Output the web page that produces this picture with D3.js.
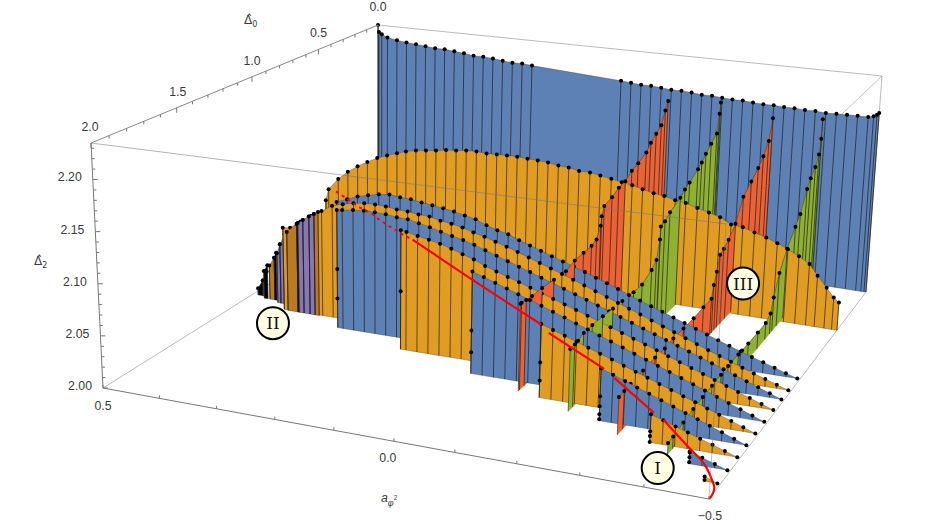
<!DOCTYPE html>
<html><head><meta charset="utf-8">
<script src="https://cdn.jsdelivr.net/npm/d3@7"></script>
<style>html,body{margin:0;padding:0;background:#fff}svg{display:block}</style></head>
<body><svg id="c" width="941" height="524"></svg>
<script>
// ---------- data: rise = Δ2 − 2 ----------
const wallA=[.5,.498,.492,.48,.46,.44,.42,.4,.38,.36,.34,.32,.3,.28,.26,.24,.22,.2,.18,0,-.02,-.04,-.06,-.08,-.1,-.12,-.14,-.16,-.18,-.2,-.22,-.24,-.26,-.28,-.3,-.32,-.34,-.36,-.38,-.4,-.42,-.44,-.46,-.48,-.49,-.496,-.5];
const wallRise=[.235,.2264,.224,.2207,.2187,.2173,.2163,.215,.2139,.2139,.2127,.2114,.2098,.2099,.2088,.2076,.2065,.2066,.2055,.199,.198,.197,.1972,.196,.1951,.1953,.1944,.1933,.1935,.1925,.1916,.1918,.191,.1902,.1905,.1897,.1898,.1891,.1892,.1882,.1887,.189,.1893,.189,.1905,.1925,.1947];
const archD0=.456;
const archA=[.5,.494,.474,.454,.434,.414,.394,.374,.354,.336,.316,.296,.276,.256,.236,.216,.196,.176,.156,.136,.116,.096,.076,.056,.036,.016,-.004,-.025,-.045,-.066,-.086,-.106,-.126,-.147,-.167,-.188,-.208,-.23,-.252,-.273,-.294,-.316,-.338,-.36,-.381,-.401,-.422,-.442,-.458,-.476,-.49,-.5];
const archRise=[.056,.0695,.083,.093,.101,.1075,.1135,.118,.122,.1255,.128,.1295,.131,.133,.134,.1355,.136,.135,.1355,.1358,.136,.135,.1347,.134,.132,.1313,.129,.129,.127,.125,.1227,.121,.1183,.1155,.114,.111,.1097,.106,.103,.0995,.0935,.0923,.0886,.085,.0805,.076,.0703,.0638,.053,.042,.033,.0287];
const sheetD0=[1.01,1.124,1.21,1.308,1.414,1.516,1.616,1.714,1.818,1.92];
const sheetKind=["blue","orange","blue","orange","blue","orange","blue","orange","blue","orange"];
const sheetStart=[8,4.3,10.5,17.5,25,32,38,43,47,49];
const sheetRise=[
[.111,.1155,.1199,.1227,.1252,.1264,.125,.1242,.1224,.121,.1192,.1173,.1148,.1122,.1075,.104,.1013,.0967,.0928,.0889,.085,.0812,.0775,.0735,.0695,.0655,.0612,.0569,.053,.049,.045,.041,.0371,.0332,.0292,.0253,.0215,.0177,.014,.0105,.007,.0035,0],
[.0871,.0881,.0963,.104,.1105,.1175,.1208,.1232,.1247,.125,.1243,.1227,.1221,.1204,.1198,.1171,.1155,.113,.1094,.1066,.1031,.0997,.0958,.0918,.0878,.0838,.0799,.0758,.0717,.0676,.0634,.0592,.0551,.051,.0468,.0427,.0386,.0346,.0305,.0264,.0224,.0185,.0146,.0109,.0073,.0036,0],
[.1223,.1231,.1245,.1254,.1254,.1248,.1232,.1226,.1201,.1175,.1145,.1116,.1091,.1057,.1017,.0978,.094,.0901,.0862,.0823,.0785,.0746,.0707,.0668,.0629,.059,.055,.051,.047,.0432,.0393,.0354,.0315,.0276,.0237,.0198,.0158,.0118,.0079,.004,0],
[.1202,.1193,.1168,.1144,.112,.1086,.1047,.1009,.0961,.0923,.0885,.0847,.0809,.0771,.0733,.0695,.0657,.0619,.058,.0542,.0503,.0465,.0426,.0387,.0348,.0309,.027,.0232,.0193,.0154,.0116,.0077,.0038,0],
[.1,.0961,.0921,.0882,.0842,.0803,.0763,.0723,.0683,.0643,.0602,.0562,.0522,.0482,.0441,.0401,.0361,.0321,.0281,.0241,.0201,.0161,.012,.008,.004,0],
[.07,.0661,.0622,.0583,.0544,.0505,.0467,.0428,.0389,.035,.0311,.0272,.0233,.0194,.0156,.0117,.0078,.0039,0],
[.0482,.0442,.0402,.0362,.0321,.0281,.0241,.0201,.0161,.012,.008,.004,0],
[.0254,.0218,.0181,.0145,.0109,.0073,.0036,0],
[.0108,.0072,.0036,0],
[.004,0]];
// the sheets stop a hair above the floor at their far end
const tipLift=.0043;
const sheetEdgeDots=[[],[],[.0609,.0302],[.0585],[.0421,.0208],[.0333,.0164],[.0225,.0133,.006,.0014],[.0101,.0057,.0003],[.0099,.0056,.0012],[.001]];
const planeKind=["red","green","red","green"];
const planeA=[-.095,-.198,-.3,-.395];
const planeD0=[
[0,.03,.072,.13,.19,.24,.33,.4,.47,.54,.61,.69,.714,.72,.76,.81,.89,.976,1.06,1.172,1.28,1.37,1.42,1.46,1.47],
[0,.01,.032,.1,.164,.212,.256,.354,.408,.46,.576,.63,.676,.68,.71,.76,.86,.95,1.066,1.16,1.26,1.36,1.44,1.49,1.52,1.56],
[0,.04,.106,.17,.256,.354,.44,.52,.576,.62,.65,.68,.7,.794,.906,1.02,1.13,1.22,1.32,1.44,1.56,1.62,1.67],
[0,.004,.024,.068,.13,.176,.254,.316,.42,.51,.57,.6,.66,.76,.88,.956,1,1.12,1.2,1.3,1.4,1.5,1.6,1.7,1.75]];
const planeRise=[
[.182,.173,.159,.1536,.1477,.1403,.135,.1318,.1257,.124,.1191,.1162,.1073,.0976,.0866,.084,.0836,.083,.0794,.0807,.0821,.0824,.083,.084,.084],
[.187,.175,.154,.1474,.1408,.1346,.1304,.1232,.1197,.1148,.1084,.1032,.1015,.0882,.0693,.0632,.0569,.0572,.0587,.0598,.0614,.0623,.0622,.0595,.059,.0585],
[.176,.1535,.1411,.1328,.1246,.1156,.0935,.083,.0782,.0757,.0605,.0495,.037,.0367,.0358,.0362,.0367,.0354,.0365,.036,.0355,.035,.0345],
[.181,.16,.1439,.1333,.1256,.1175,.0965,.0879,.0731,.0551,.0349,.021,.0167,.0165,.0165,.0168,.017,.0175,.017,.0165,.016,.015,.013,.011,.0105]];
// left staircase strips: colour, Δ0, a at both ends, rise at both ends
const stripKind=["black","purple","black","brown","black","purple","purple","black","brown","black","purple","purple","purple","brown"];
const stripD0=[1.03,1.03,1.05,1.05,1.05,1.07,1.07,1.07,1.124,1.124,1.124,1.124,1.124,1.124];
const stripA0=[.49,.4803,.4724,.4614,.4516,.4407,.4345,.4248,.4067,.3873,.3853,.3756,.364,.3544];
const stripA1=[.4803,.4724,.4653,.4516,.4477,.4345,.4248,.4208,.3873,.3853,.3756,.364,.3544,.3467];
const stripR0=[.0073,.0167,.0294,.0363,.0456,.0532,.0635,.075,.0836,.0937,.0949,.0988,.1035,.107];
const stripR1=[.0167,.027,.0363,.0456,.0513,.0635,.075,.0785,.0937,.0949,.0988,.1035,.107,.1097];
// red curve (a, Δ0, rise); solid runs and the dashed beginning
const redDashed=[[.393,.8,.1023],[.324,1.0,.116],[.272,1.12,.121],[.228,1.2,.1235],[.201,1.25,.123],[.17,1.28,.1194],[.142,1.31,.117],[.124,1.33,.1163]];
const redSolid=[
[[.124,1.33,.1163],[-.012,1.45,.0967],[-.1445,1.54,.075]],
[[-.158,1.544,.0687],[-.269,1.64,.0544]],
[[-.2895,1.66,.0501],[-.3686,1.74,.034]],
[[-.3874,1.76,.0316],[-.44,1.84,.0215],[-.47,1.9,.0194],[-.485,1.94,.0184],[-.497,1.96,.0115],[-.5,1.95,.0038],[-.5,1.97,0],[-.5,2,0]]];
const d0Ticks=[0,.1,.2,.3,.4,.5,.6,.7,.8,.9,1,1.1,1.2,1.3,1.4,1.5,1.6,1.7,1.8,1.9,2];
const d0Labels=["0.0","0.5","1.0","1.5","2.0"];
const d2Ticks=[2,2.01,2.02,2.03,2.04,2.05,2.06,2.07,2.08,2.09,2.1,2.11,2.12,2.13,2.14,2.15,2.16,2.17,2.18,2.19,2.2,2.21,2.22,2.23];
const d2Labels=["2.00","2.05","2.10","2.15","2.20"];
const aTicks=[.5,.4,.3,.2,.1,0,-.1,-.2,-.3,-.4,-.5];
const aLabels=["0.5","0.0","−0.5"];
const regionLabels=[["II",.4,1.26,0],["III",-.277,.12,0],["I",-.397,1.855,0]];
const palette={blue:"#5e81b5",orange:"#e19c24",green:"#8fb131",red:"#eb6235",purple:"#8778b3",brown:"#bb7a22",black:"#000"};

// ---------- perspective box ----------
const scaleA=d3.scaleLinear().domain([.5,-.5]).range([0,1]);
const scaleD0=d3.scaleLinear().domain([0,2]).range([0,1]);
const scaleD2=d3.scaleLinear().domain([2,2.235]).range([0,1]);
const corners={ "000":[378,216],"100":[866,292],"010":[103,388],"110":[709,499],
                "001":[378,25],"101":[882,76],"011":[91,143],"111":[726,224]};
const depth=(u,f)=>1-.06*u-.217*f;
function project(a,d0,d2){
  const u=scaleA(a),f=scaleD0(d0),h=scaleD2(d2);
  let X=0,Y=0,W=0;
  for(const cu of [0,1])for(const cf of [0,1])for(const ch of [0,1]){
    const k=(cu?u:1-u)*(cf?f:1-f)*(ch?h:1-h), w=depth(cu,cf), c=corners[""+cu+cf+ch];
    X+=k*w*c[0];Y+=k*w*c[1];W+=k*w;
  }
  return [X/W,Y/W];
}
const svg=d3.select("#c");
const g=svg.append("g");
const line=d3.line();
const P=(a,d0,r)=>project(a,d0,2+r);
const Lifted=(a,d0,r)=>project(a,d0,2+r+tipLift*scaleA(a));
function seg(p,q,col,w,op){g.append("path").attr("d",line([p,q])).attr("stroke",col).attr("stroke-width",w).attr("stroke-opacity",op==null?1:op).attr("fill","none");}
function dot(p,r){g.append("circle").attr("cx",p[0]).attr("cy",p[1]).attr("r",r||2).attr("fill","#000");}
const E=(a,d)=>{seg(corners[a],corners[d],"#bbb",1)};
E("001","101");E("000","010");E("110","100");E("101","100");E("000","100");

function curtain(A,D0,R,color,proj){
  const pf=proj||P;
  const top=A.map((a,i)=>pf(a,D0,R[i])), bot=A.map(a=>pf(a,D0,0)).reverse();
  g.append("path").attr("d",line(top.concat(bot))+"Z").attr("fill",color).attr("stroke","#333").attr("stroke-opacity",.45).attr("stroke-width",.7);
  A.forEach((a,i)=>seg(pf(a,D0,R[i]),pf(a,D0,0),"#111",1,.62));
  seg(top[0],bot[bot.length-1],"#222",.8,.6);
  top.forEach(p=>dot(p));
}
const items=[];
items.push({z:0,draw(){curtain(wallA,0,wallRise,palette.blue);}});
items.push({z:archD0/2,draw(){curtain(archA,archD0,archRise,palette.orange);}});
sheetD0.forEach((d0,k)=>{
  items.push({z:d0/2,draw(){
    const s=sheetStart[k], idx=[s]; let n=Math.floor(s)+1;
    while(idx.length<sheetRise[k].length){idx.push(n);n++;}
    const A=idx.map(i=>.5-.02*i);
    curtain(A,d0,sheetRise[k],palette[sheetKind[k]],Lifted);
    sheetEdgeDots[k].forEach(r=>dot(Lifted(A[0],d0,r)));
  }});
});
stripKind.forEach((kind,k)=>{
  items.push({z:stripD0[k]/2+.0001,draw(){
    curtain([stripA0[k],stripA1[k]],stripD0[k],[stripR0[k],stripR1[k]],palette[kind]);
  }});
});
planeA.forEach((a,p)=>{
  const D=planeD0[p],R=planeRise[p];
  for(let j=0;j<D.length-1;j++){
    items.push({z:(D[j]+D[j+1])/4,draw(){
      const poly=[P(a,D[j],R[j]),P(a,D[j+1],R[j+1]),P(a,D[j+1],0),P(a,D[j],0)];
      g.append("path").attr("d",line(poly)+"Z").attr("fill",palette[planeKind[p]]).attr("stroke",palette[planeKind[p]]).attr("stroke-width",.4);
      seg(poly[0],poly[3],"#111",1,.62);
      seg(poly[0],poly[1],"#222",.7,.6);
      if(j===D.length-2) seg(poly[1],poly[2],"#111",.8,.6);
      dot(poly[0]);
      if(j===D.length-2) dot(poly[1]);
    }});
  }
});
items.sort((x,y)=>x.z-y.z).forEach(it=>it.draw());

// ---------- red curve ----------
const redLine=d3.line().curve(d3.curveCatmullRom);
const rp=t=>P(t[0],t[1],t[2]);
g.append("path").attr("d",redLine(redDashed.map(rp))).attr("fill","none").attr("stroke","#f00").attr("stroke-width",2).attr("stroke-dasharray","3 4");
redSolid.forEach(r=>g.append("path").attr("d",redLine(r.map(rp))).attr("fill","none").attr("stroke","#f00").attr("stroke-width",2.2));

// ---------- box in front and axes ----------
seg(corners["011"],corners["111"],"#777",1,.55);
seg(corners["111"],corners["101"],"#777",1,.45);
seg(corners["111"],corners["110"],"#777",1,.45);
seg(corners["011"],corners["001"],"#888",1);
seg(corners["011"],corners["010"],"#777",1);
seg(corners["010"],corners["110"],"#777",1);
const axisCol="#777", FONT="'Liberation Sans',Arial,sans-serif";
const txt=(x,y,t,anchor)=>svg.append("text").attr("x",x).attr("y",y).attr("text-anchor",anchor||"middle").attr("font-family",FONT).attr("font-size",12.3).attr("fill","#3a3a3a").text(t);
d0Ticks.forEach(t=>{const p=project(.5,t,2.235),major=d0Labels.includes(t.toFixed(1));
  seg(p,[p[0],p[1]+(major?5:3)],axisCol,1);});
d0Labels.forEach(l=>{const v=+l,p=project(.5,v,2.235);txt(p[0]+(v==1.5?1:0)-(v==2?1:0),p[1]-(v?12:14),l);});
d2Ticks.forEach(t=>{const p=project(.5,2,t),major=d2Labels.includes(t.toFixed(2));
  seg(p,[p[0]+(major?5:3),p[1]],axisCol,1);});
d2Labels.forEach(l=>{const p=project(.5,2,+l);txt(p[0]-11,p[1]+2,l,"end");});
aTicks.forEach(t=>{const p=project(t,2,2);seg(p,[p[0],p[1]-3],axisCol,1);});
aLabels.forEach(l=>{const v=+l.replace("−","-"),p=project(v,2,2);txt(p[0]+(v==0?-6:v==.5?0:1),p[1]+(v==.5?22:21),l);});
// axis titles: the hat is a combining mark on the delta
function hatted(x,y,sub){
  const t=svg.append("text").attr("x",x).attr("y",y).attr("font-family","'DejaVu Sans',sans-serif").attr("font-size",12).attr("fill","#3a3a3a");
  t.append("tspan").text("Δ\u0302");
  t.append("tspan").attr("dy",3).attr("font-size",8).text(sub);
}
hatted(244,24,"0");
hatted(34,265,"2");
const ta=svg.append("text").attr("x",381).attr("y",502).attr("font-family",FONT).attr("font-size",12.3).attr("fill","#3a3a3a");
ta.append("tspan").attr("font-style","italic").text("a");
ta.append("tspan").attr("dy",4).attr("font-size",9).attr("font-style","italic").text("φ");
ta.append("tspan").attr("dy",-6).attr("font-size",6.5).text("2");

// ---------- region labels ----------
regionLabels.forEach(r=>{
  const p=project(r[1],r[2],2+r[3]);
  svg.append("circle").attr("cx",p[0]).attr("cy",p[1]).attr("r",16).attr("fill","#ffffe3").attr("stroke","#000").attr("stroke-width",2);
  svg.append("text").attr("x",p[0]).attr("y",p[1]+6).attr("text-anchor","middle").attr("font-family","'DejaVu Serif',serif").attr("font-size",17).attr("fill","#111").text(r[0]);
});
</script></body></html>
